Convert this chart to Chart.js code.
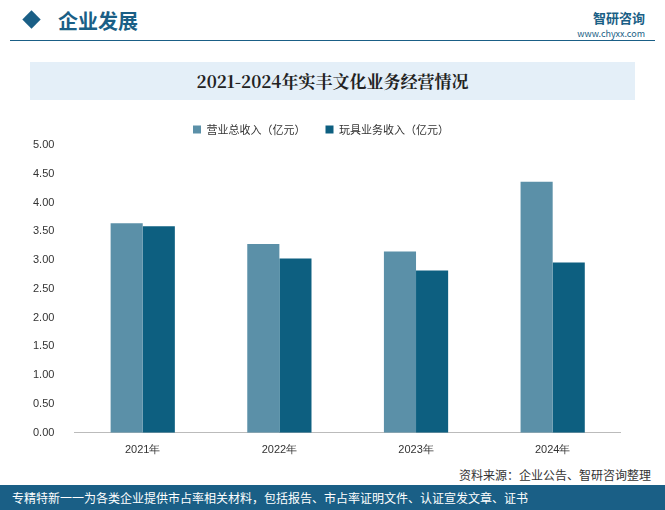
<!DOCTYPE html>
<html>
<head>
<meta charset="utf-8">
<script src="https://cdn.jsdelivr.net/npm/chart.js@4"></script>
<style>
  body { margin: 0; width: 665px; height: 510px; background: #fff; font-family: "Noto Sans CJK SC", sans-serif; position: relative; overflow: hidden; }
  .head { position: absolute; left: 22px; top: 6px; font-size: 20px; color: #1a5f86; font-weight: bold; }
  .diamond { position: absolute; left: 25px; top: 13px; width: 13px; height: 13px; background: #1a5f86; transform: rotate(45deg); }
  .headline { position: absolute; left: 10px; right: 10px; top: 40px; height: 1px; background: #1a5f86; }
  .logo { position: absolute; right: 20px; top: 8px; color: #1a5f86; font-size: 13px; font-weight: bold; text-align: right; }
  .logo small { display: block; font-size: 9px; font-weight: normal; }
  .band { position: absolute; left: 30px; right: 30px; top: 62px; height: 38px; background: #e4eff8; text-align: center; line-height: 38px; font-size: 17px; font-weight: bold; color: #222; font-family: "Noto Serif CJK SC", "Noto Sans CJK SC", serif; }
  #wrap { position: absolute; left: 21px; top: 104px; width: 600px; height: 356px; }
  .src { position: absolute; right: 14px; top: 466px; font-size: 12px; color: #333; }
  .foot { position: absolute; left: 0; right: 0; top: 485px; height: 25px; background: #1a5f86; color: #fff; font-size: 12px; line-height: 25px; padding-left: 12px; }
</style>
</head>
<body>
<div class="diamond"></div>
<div class="head" style="left:58px">企业发展</div>
<div class="headline"></div>
<div class="logo">智研咨询<small>www.chyxx.com</small></div>
<div class="band">2021-2024年实丰文化业务经营情况</div>
<div id="wrap"><canvas id="c"></canvas></div>
<div class="src">资料来源：企业公告、智研咨询整理</div>
<div class="foot">专精特新一一为各类企业提供市占率相关材料，包括报告、市占率证明文件、认证宣发文章、证书</div>
<script>
const years = ['2021年', '2022年', '2023年', '2024年'];
const revenue = [3.64, 3.28, 3.15, 4.36];
const toyRevenue = [3.59, 3.03, 2.82, 2.96];

new Chart(document.getElementById('c'), {
  type: 'bar',
  data: {
    labels: years,
    datasets: [
      { label: '营业总收入（亿元）', data: revenue, backgroundColor: '#5b90a8', barPercentage: 1, categoryPercentage: 0.47 },
      { label: '玩具业务收入（亿元）', data: toyRevenue, backgroundColor: '#0d5f80', barPercentage: 1, categoryPercentage: 0.47 },
    ],
  },
  options: {
    responsive: true,
    maintainAspectRatio: false,
    animation: false,
    plugins: {
      legend: {
        labels: { boxWidth: 8, boxHeight: 8, color: '#333', padding: 20, font: { size: 11, family: 'Noto Sans CJK SC' } },
      },
      tooltip: { enabled: false },
    },
    scales: {
      x: {
        grid: { display: false },
        border: { color: '#bbb' },
        ticks: { color: '#333', font: { size: 11 } },
      },
      y: {
        min: 0, max: 5,
        grid: { display: false },
        border: { display: false },
        ticks: { stepSize: 0.5, color: '#333', padding: 12, font: { size: 11 }, callback: (v) => v.toFixed(2) },
      },
    },
  },
});
</script>
</body>
</html>
